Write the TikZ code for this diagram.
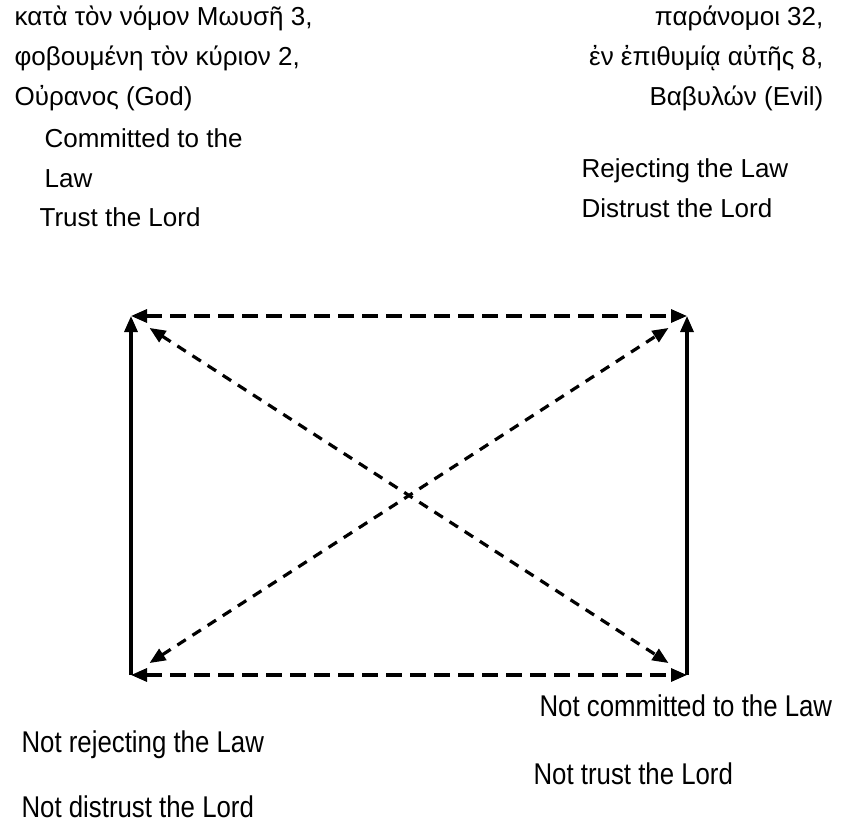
\documentclass[tikz,border=0pt]{standalone}
\usepackage{fontspec}
\setmainfont{Liberation Sans}
\newfontfamily\narrowfont[FakeStretch=0.86]{Liberation Sans}
\usetikzlibrary{arrows.meta}

\begin{document}
\begin{tikzpicture}[x=0.5pt,y=-0.5pt,line width=1.6pt]
        \tikzset{solidarrow/.style={-{Triangle[length=8pt,width=6.5pt]}},
                 dasharrow/.style={{Triangle[length=8pt,width=6.5pt]}-{Triangle[length=8pt,width=6.5pt]}, dash pattern=on 8pt off 4pt},
                 diagarrow/.style={dasharrow, dash pattern=on 5pt off 4pt, shorten <=11pt, shorten >=11pt},
                 txt/.style={anchor=base west, inner sep=0pt, font=\fontsize{13}{16}\selectfont},
                 rtxt/.style={txt, anchor=base east},
                 lowtxt/.style={txt, font=\narrowfont\fontsize{15}{18}\selectfont}}
        \useasboundingbox (0,0) rectangle (851,834);

	%---NODES---
        \coordinate (tl) at (131,316);
        \coordinate (tr) at (687,316);
        \coordinate (bl) at (131,675);
        \coordinate (br) at (687,675);

	%---EDGES---
        \draw[solidarrow]   (bl) -- (tl) ;
        \draw[solidarrow]   (br) -- (tr) ;
        \draw[dasharrow]   (tl) -- (tr) ;
        \draw[dasharrow]   (bl) -- (br) ;
        \draw[diagarrow]   (tl) -- (br) ;
        \draw[diagarrow]   (bl) -- (tr) ;

	%---LABELS---
        \node[txt] (g1) at (13,26) {κατὰ τὸν νόμον Μωυσῆ 3,};
        \node[txt] (g2) at (13,66) {φοβουμένη τὸν κύριον 2,};
        \node[txt] (g3) at (13,106) {Οὐρανος (God)};
        \node[rtxt] (e1) at (825,26) {παράνομοι 32,};
        \node[rtxt] (e2) at (825,66) {ἐν ἐπιθυμίᾳ αὐτῆς 8,};
        \node[rtxt] (e3) at (825,106) {Βαβυλών (Evil)};

        \node[txt] (c1) at (43,148) {Committed to the};
        \node[txt] (c2) at (43,188) {Law};
        \node[txt] (c3) at (38,227) {Trust the Lord};
        \node[txt] (r1) at (580,178) {Rejecting the Law};
        \node[txt] (r2) at (580,218) {Distrust the Lord};

        \node[lowtxt] (n1) at (20,752) {Not rejecting the Law};
        \node[lowtxt] (n2) at (20,817) {Not distrust the Lord};
        \node[lowtxt] (n3) at (538,716) {Not committed to the Law};
        \node[lowtxt] (n4) at (532,784) {Not trust the Lord};

    \end{tikzpicture}
\end{document}
